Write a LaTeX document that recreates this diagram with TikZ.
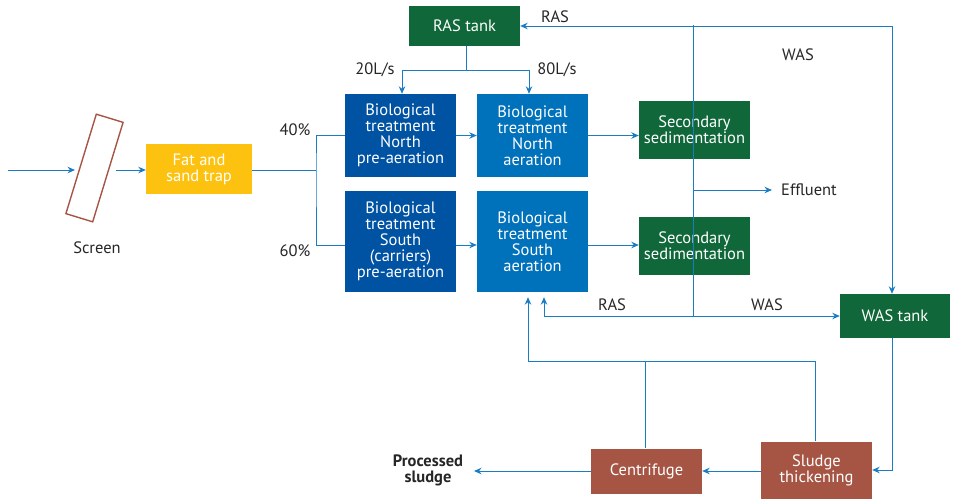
\documentclass[tikz,border=0pt]{standalone}
\usepackage{fontspec}
\setmainfont{PT Sans}
\usetikzlibrary{arrows.meta}
\definecolor{lineblue}{HTML}{1A7DC4}
\definecolor{fatyellow}{HTML}{FDC20F}
\definecolor{darkblue}{HTML}{0052A3}
\definecolor{midblue}{HTML}{0071BB}
\definecolor{sedgreen}{HTML}{10683A}
\definecolor{sludgebrown}{HTML}{A65544}
\definecolor{txt}{HTML}{262626}
\tikzset{
  box/.style={draw=none, text=white, align=center, inner sep=0pt,
    font=\fontsize{16.5}{16}\selectfont},
  lbl/.style={text=txt, align=center, inner sep=0pt, font=\fontsize{16.5}{16}\selectfont},
  flow/.style={draw=lineblue, line width=1pt},
  arr/.style={flow, -{Stealth[length=7.5pt,width=6.5pt]}},
}
\begin{document}
\begin{tikzpicture}[x=1pt,y=-1pt]
\useasboundingbox (0,0) rectangle (954,499);
% boxes
\node[box, fill=fatyellow, minimum width=106, minimum height=50] (fat) at (199,169) {Fat and\\sand trap};
\node[draw=sludgebrown, line width=1.4pt, minimum width=28, minimum height=104, rotate=-17, inner sep=0pt] (screen) at (94.5,168) {};
\node[lbl] (screenlbl) at (97,248) {Screen};
\node[box, fill=sedgreen, minimum width=111, minimum height=40] (ras) at (464.5,26) {RAS tank};
\node[box, fill=darkblue, minimum width=111, minimum height=83] (npre) at (400.5,135.5) {Biological\\treatment\\North\\pre-aeration};
\node[box, fill=midblue, minimum width=111, minimum height=83] (naer) at (532.5,135.5) {Biological\\treatment\\North\\aeration};
\node[box, fill=darkblue, minimum width=111, minimum height=101] (spre) at (400.5,241.5) {Biological\\treatment\\South\\(carriers)\\pre-aeration};
\node[box, fill=midblue, minimum width=111, minimum height=101] (saer) at (532.5,241.5) {Biological\\treatment\\South\\aeration};
\node[box, fill=sedgreen, minimum width=111, minimum height=58] (secn) at (694.5,130) {Secondary\\sedimentation};
\node[box, fill=sedgreen, minimum width=111, minimum height=58] (secs) at (694.5,246) {Secondary\\sedimentation};
\node[box, fill=sedgreen, minimum width=110, minimum height=44] (was) at (895,316) {WAS tank};
\node[box, fill=sludgebrown, minimum width=111, minimum height=57] (thick) at (816.5,470) {Sludge\\thickening};
\node[box, fill=sludgebrown, minimum width=111, minimum height=45] (cent) at (646.5,471) {Centrifuge};
% labels
\node[lbl] (p40) at (295,130) {40\%};
\node[lbl] (p60) at (295,251) {60\%};
\node[lbl] (l20) at (375,70) {20L/s};
\node[lbl] (l80) at (557,70) {80L/s};
\node[lbl] (rastop) at (555,17) {RAS};
\node[lbl] (wastop) at (798,55) {WAS};
\node[lbl] (rasbot) at (612,305) {RAS};
\node[lbl] (wasbot) at (767,305) {WAS};
\node[lbl, anchor=west] (eff) at (781,190) {Effluent};
\node[lbl, font=\fontsize{16.5}{16}\selectfont\bfseries] (proc) at (428,470) {Processed\\sludge};
% coordinates
\coordinate (in0) at (8,170);
\coordinate (in1) at (75,170);
\coordinate (scr) at (116,170);
\coordinate (split) at (316,170);
\coordinate (sedtop) at (693,25);
\coordinate (sedbot) at (693,316);
\coordinate (effend) at (772,190);
\coordinate (corner) at (892,26);
\coordinate (rasjoin) at (466,70);
\coordinate (rasl) at (402,70);
\coordinate (rasr) at (529,70);
\coordinate (rasret) at (544,316);
\coordinate (rectop) at (528,361);
\coordinate (procend) at (474,471);
% connectors
\draw[arr] (in0) -- (in1);
\draw[arr] (scr) -- (scr -| fat.west);
\draw[flow] (fat.east |- split) -- (split);
\draw[flow] (npre.west) -| (split) |- ([yshift=-3.5pt]spre.west);
\draw[arr] (npre.east) -- (naer.west);
\draw[arr] ([yshift=-3.5pt]spre.east) -- ([yshift=-3.5pt]saer.west);
\draw[arr] (naer.east) -- (naer.east -| secn.west);
\draw[arr] ([yshift=-3.5pt]saer.east) -- ([yshift=-3.5pt]saer.east -| secs.west);
\draw[flow] (sedtop) -- (sedbot);
\draw[arr] (corner) -- (ras.east);
\draw[arr] (corner) -- (corner |- was.north);
\draw[arr] (effend -| sedtop) -- (effend);
\draw[flow] (ras.south -| rasjoin) -- (rasjoin);
\draw[flow] (rasl) -- (rasr);
\draw[arr] (rasl) -- (rasl |- npre.north);
\draw[arr] (rasr) -- (rasr |- naer.north);
\draw[arr] (sedbot) -- (rasret) -- ([yshift=-5pt]rasret |- saer.south);
\draw[arr] (sedbot) -- (was.west);
\draw[arr] (was.south -| corner) |- (thick.east);
\draw[arr] (thick.west |- cent) -- (cent.east);
\draw[arr] (cent.west) -- (procend);
\draw[flow] (cent.north -| 645,0) -- (645,361);
\draw[flow] (thick.north -| 815,0) -- (815,361);
\draw[arr] (815,361) -- (rectop) -- ([yshift=-5pt]rectop |- saer.south);
\end{tikzpicture}
\end{document}
